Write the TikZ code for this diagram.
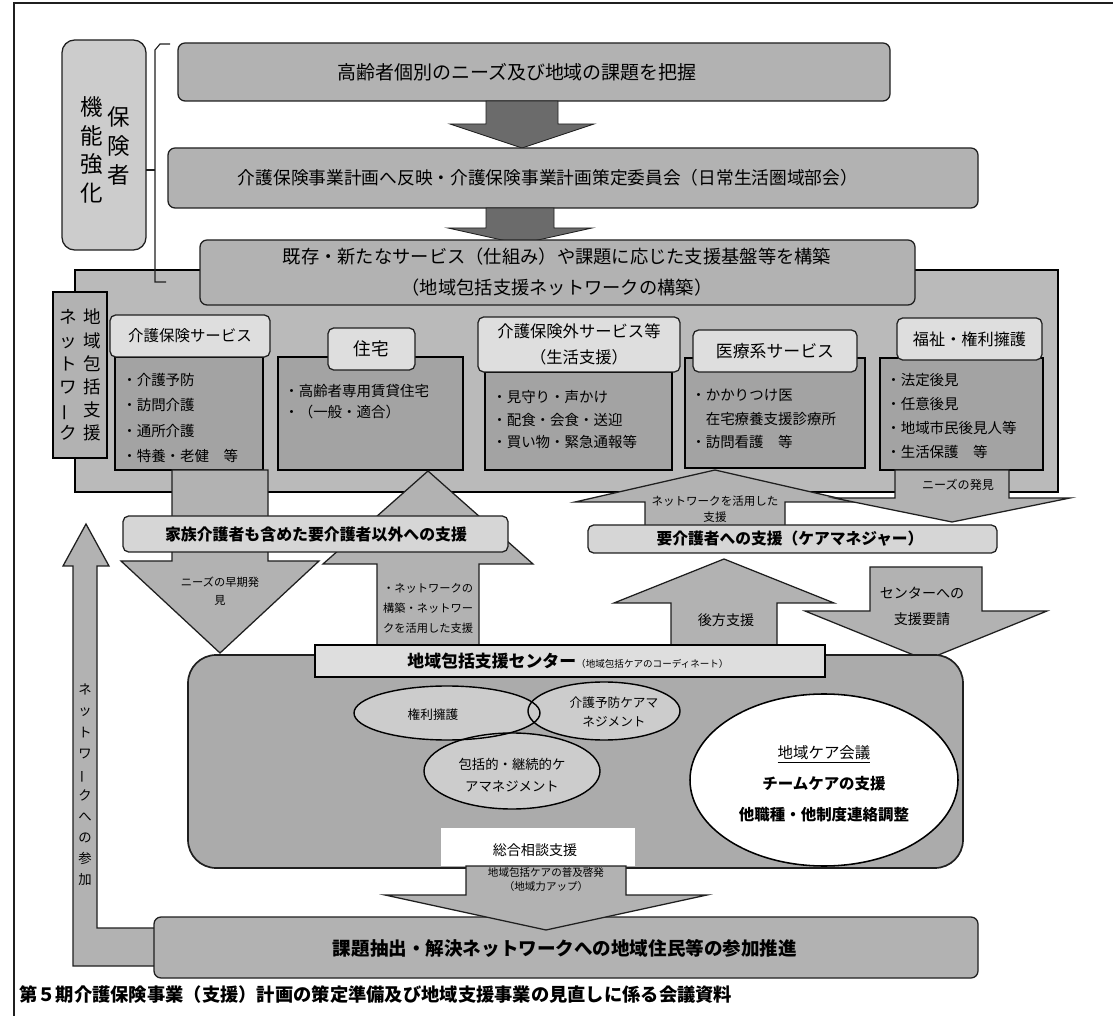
\documentclass[tikz,border=0pt]{standalone}
\usepackage{fontspec}
\setmainfont{Noto Sans CJK JP}
\usetikzlibrary{shapes.geometric}
\definecolor{gBar}{gray}{0.70}
\definecolor{gDark}{gray}{0.42}
\definecolor{gPanel}{gray}{0.73}
\definecolor{gSide}{gray}{0.80}
\definecolor{gTitle}{gray}{0.87}
\definecolor{gContent}{gray}{0.64}
\definecolor{gArrow}{gray}{0.70}
\definecolor{gBand}{gray}{0.84}
\definecolor{gCenter}{gray}{0.67}
\definecolor{gEll}{gray}{0.80}
\definecolor{gLine}{gray}{0.12}
\newcommand{\fsz}[2]{\fontsize{#1pt}{#2pt}\selectfont}
\newcommand{\vbar}{\rotatebox[origin=c]{90}{ー}}
\newcommand{\blkarrow}[7]{%
  \draw[#1] ({#2-#6},#3) -- ({#2-#6},#4) -- ({#2-#7},#4) -- (#2,#5) --
    ({#2+#7},#4) -- ({#2+#6},#4) -- ({#2+#6},#3) -- cycle;}
\newcommand{\boxnode}[6]{%
  \node[#2, minimum width={(#5-#3)*0.025cm}, minimum height={(#6-#4)*0.025cm}]
    (#1) at ({(#3+#5)/2},{(#4+#6)/2}) {};}
\begin{document}
\begin{tikzpicture}[x=0.025cm, y=-0.025cm,
  ln/.style={draw=gLine, line width=0.9pt},
  bar/.style={ln, fill=gBar, rounded corners=5pt, inner sep=0pt},
  sidebox/.style={ln, fill=gSide, rounded corners=9pt, inner sep=0pt},
  darrow/.style={draw=gLine, line width=0.6pt, fill=gDark},
  marrow/.style={draw=gLine, line width=0.9pt, fill=gArrow},
  panel/.style={draw=black, line width=1.4pt, fill=gPanel},
  netbox/.style={draw=black, line width=1pt, fill=gBar, inner sep=0pt},
  titlebox/.style={ln, fill=gTitle, rounded corners=4pt, inner sep=0pt},
  contbox/.style={draw=black, line width=1.5pt, fill=gContent, inner sep=0pt},
  band/.style={ln, fill=gBand, rounded corners=4pt, inner sep=0pt},
  centerbox/.style={draw=gLine, line width=1.2pt, fill=gCenter, rounded corners=20pt, inner sep=0pt},
  ctitle/.style={draw=black, line width=1.6pt, fill=gTitle, inner sep=0pt},
  ellout/.style={ellipse, draw=black, line width=1pt, inner sep=0pt},
  whitebox/.style={fill=white, inner sep=0pt},
  txt/.style={inner sep=0pt, text=black, align=center},
  ltxt/.style={inner sep=0pt, text=black, align=left, anchor=west},
]
\useasboundingbox (0,0) rectangle (1113,1016);
\fill[white] (0,0) rectangle (1113,1016);
% frame
\draw[gLine, line width=0.8pt] (14,1016) -- (14,3) -- (1113,3);

% insurer function box
\boxnode{hoken}{sidebox}{62}{40}{146}{250}
\node[txt, font=\fsz{16}{20.5}] (hk1) at (119,146) {保\\険\\者};
\node[txt, font=\fsz{16}{20.5}] (hk2) at (92,150) {機\\能\\強\\化};

% top flow
\boxnode{b1}{bar}{178}{43}{890}{101}
\node[txt, font=\fsz{13.5}{16}] (b1t) at (517,72) {高齢者個別のニーズ及び地域の課題を把握};
\blkarrow{darrow}{522}{101}{124}{148}{36}{72}
\boxnode{b2}{bar}{168}{148}{978}{208}
\node[txt, font=\fsz{12.6}{15}] (b2t) at (548,178) {介護保険事業計画へ反映・介護保険事業計画策定委員会（日常生活圏域部会）};
\blkarrow{darrow}{520}{208}{228}{244}{34}{72}

% network panel
\draw[panel] (75,270) rectangle (1058,492);
\boxnode{b3}{bar}{200}{240}{915}{305}
\node[txt, font=\fsz{13}{22.5}] (b3t) at (557,272) {既存・新たなサービス（仕組み）や課題に応じた支援基盤等を構築\\（地域包括支援ネットワークの構築）};

% bracket
\draw[gLine, line width=0.8pt] (170,44) -- (160,44) -- (155,50) -- (155,282) -- (166,282);
\draw[gLine, line width=0.8pt] (146,170) -- (155,170);

% network vertical box
\boxnode{netw}{netbox}{53}{292}{107}{458}
\node[txt, font=\fsz{12.5}{16.4}] (nw1) at (92,375) {地\\域\\包\\括\\支\\援};
\node[txt, font=\fsz{12.5}{16.4}] (nw2) at (68,375) {ネ\\ッ\\ト\\ワ\\\vbar\\ク};

% service columns
\boxnode{c1}{contbox}{115}{357}{263}{470}
\boxnode{t1}{titlebox}{110}{315}{270}{357}
\node[txt, font=\fsz{11}{13}] (t1t) at (t1) {介護保険サービス};
\node[ltxt, font=\fsz{10.3}{18}] (c1t) at (122,418) {・介護予防\\・訪問介護\\・通所介護\\・特養・老健　等};

\boxnode{c2}{contbox}{278}{357}{463}{470}
\boxnode{t2}{titlebox}{328}{328}{415}{370}
\node[txt, font=\fsz{12.5}{15}] (t2t) at (t2) {住宅};
\node[ltxt, font=\fsz{10.3}{15}] (c2t) at (284,402) {・高齢者専用賃貸住宅\\・（一般・適合）};

\boxnode{c3}{contbox}{485}{372}{672}{470}
\boxnode{t3}{titlebox}{478}{317}{680}{372}
\node[txt, font=\fsz{11.6}{19}] (t3t) at (t3) {介護保険外サービス等\\（生活支援）};
\node[ltxt, font=\fsz{10.3}{16}] (c3t) at (492,420) {・見守り・声かけ\\・配食・会食・送迎\\・買い物・緊急通報等};

\boxnode{c4}{contbox}{685}{358}{865}{468}
\boxnode{t4}{titlebox}{693}{330}{857}{372}
\node[txt, font=\fsz{12}{14}] (t4t) at (t4) {医療系サービス};
\node[ltxt, font=\fsz{10.3}{16.7}] (c4t) at (691,419) {・かかりつけ医\\　在宅療養支援診療所\\・訪問看護　等};

\boxnode{c5}{contbox}{880}{358}{1043}{470}
\boxnode{t5}{titlebox}{897}{318}{1042}{360}
\node[txt, font=\fsz{11.5}{14}] (t5t) at (t5) {福祉・権利擁護};
\node[ltxt, font=\fsz{10.3}{17}] (c5t) at (886,416) {・法定後見\\・任意後見\\・地域市民後見人等\\・生活保護　等};

% left middle arrows and band
\blkarrow{marrow}{220}{470}{561}{653}{48}{99}
\node[txt, font=\fsz{8}{12.8}] (aA) at (220,591) {ニーズの早期発\\見};
\blkarrow{marrow}{428}{660}{564}{471}{51}{105}
\node[txt, font=\fsz{8}{14.2}] (aB) at (428,608) {・ネットワークの\\構築・ネットワー\\クを活用した支援};
\boxnode{band1}{band}{123}{516}{508}{552}
\node[txt, font=\fsz{11.3}{13}\bfseries] (band1t) at (316,534) {家族介護者も含めた要介護者以外への支援};

% right middle arrows and band
\blkarrow{marrow}{715}{530}{502}{470}{70}{140}
\node[txt, font=\fsz{8.2}{11.5}] (aC) at (715,509) {ネットワークを活用した\\支援};
\blkarrow{marrow}{952}{470}{498}{522}{57}{118}
\node[txt, font=\fsz{8.6}{10}] (aD) at (958,485) {ニーズの発見};
\boxnode{band2}{band}{588}{525}{997}{553}
\node[txt, font=\fsz{11.2}{13}\bfseries] (band2t) at (790,539) {要介護者への支援（ケアマネジャー）};

\blkarrow{marrow}{724}{665}{603}{559}{53}{110}
\node[txt, font=\fsz{10}{12}] (aE) at (726,620) {後方支援};
\blkarrow{marrow}{926}{567}{611}{660}{56}{121}
\node[txt, font=\fsz{10}{18.5}] (aF) at (922,606) {センターへの\\支援要請};

% center
\boxnode{ctr}{centerbox}{188}{655}{963}{868}
\boxnode{ctrt}{ctitle}{315}{645}{825}{677}
\node[txt] (ctrtt) at (568,661) {{\fsz{12}{14}\bfseries 地域包括支援センター}{\fsz{6.8}{8}（地域包括ケアのコーディネート）}};

\fill[gEll] (447,713) ellipse [x radius=93, y radius=27];
\fill[gEll] (604,711) ellipse [x radius=76, y radius=29];
\fill[gEll] (512,771) ellipse [x radius=88, y radius=38];
\node[ellout, minimum width={186*0.025cm}, minimum height={54*0.025cm}] (e1) at (447,713) {};
\node[ellout, minimum width={152*0.025cm}, minimum height={58*0.025cm}] (e2) at (604,711) {};
\node[ellout, minimum width={176*0.025cm}, minimum height={76*0.025cm}] (e3) at (512,771) {};
\node[txt, font=\fsz{9}{11}] (e1t) at (433,715) {権利擁護};
\node[txt, font=\fsz{9}{14}] (e2t) at (614,712) {介護予防ケアマ\\ネジメント};
\node[txt, font=\fsz{9.5}{15.5}] (e3t) at (512,775) {包括的・継続的ケ\\アマネジメント};

\node[ellout, fill=white, line width=1.1pt, minimum width={268*0.025cm}, minimum height={172*0.025cm}] (e4) at (824,780) {};
\node[txt, font=\fsz{11}{22}] (e4t) at (824,784) {\underline{地域ケア会議}\\{\bfseries チームケアの支援}\\{\bfseries 他職種・他制度連絡調整}};

\boxnode{sogo}{whitebox}{441}{828}{635}{866}
\node[txt, font=\fsz{10}{12}] (sogot) at (535,850) {総合相談支援};

% bottom
\draw[marrow] (160,928) -- (97,928) -- (97,566) -- (109,566) -- (86,524) -- (63,566) -- (73,566) -- (73,966) -- (160,966) -- cycle;
\node[txt, font=\fsz{9.5}{15}] (lT) at (85,785) {ネ\\ッ\\ト\\ワ\\\vbar\\ク\\へ\\の\\参\\加};

\boxnode{b4}{bar}{154}{917}{978}{978}
\node[txt, font=\fsz{13.2}{16}\bfseries] (b4t) at (565,948) {課題抽出・解決ネットワークへの地域住民等の参加推進};
\blkarrow{marrow}{546}{866}{895}{930}{80}{161}
\node[txt, font=\fsz{7.5}{10}] (gT) at (546,880) {地域包括ケアの普及啓発\\（地域力アップ）};

% caption
\node[ltxt, font=\fsz{13}{15}\bfseries] (cap) at (19,995) {第５期介護保険事業（支援）計画の策定準備及び地域支援事業の見直しに係る会議資料};
\end{tikzpicture}
\end{document}
